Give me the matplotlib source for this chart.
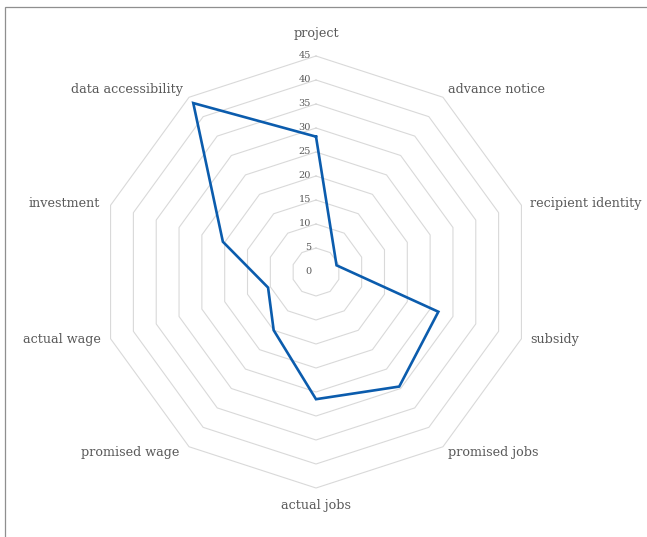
import numpy as np
import matplotlib
matplotlib.use("Agg")
import matplotlib.pyplot as plt
from matplotlib.patches import Rectangle

# Scores per disclosure category (advance notice has no value and is skipped)
categories = ["project", "advance notice", "recipient identity", "subsidy",
              "promised jobs", "actual jobs", "promised wage", "actual wage",
              "investment", "data accessibility"]
scores = [28.2, np.nan, 4.5, 26.8, 29.5, 26.5, 15.0, 10.5, 20.4, 43.5]
ring_levels = [0, 5, 10, 15, 20, 25, 30, 35, 40, 45]

W, H, DPI = 647, 537, 100
fig = plt.figure(figsize=(W / DPI, H / DPI), dpi=DPI)
fig.patch.set_facecolor("white")

# chart area frame (left and top edges visible)
fig.patches.append(Rectangle((5 / W, -0.5), 2.0, 1.5 - 7 / H,
                             transform=fig.transFigure, fill=False,
                             edgecolor="#8f8f8f", linewidth=0.9))

cx, cy, R = 316, 272, 216
ax = fig.add_axes([(cx - R) / W, (H - cy - R) / H, 2 * R / W, 2 * R / H],
                  projection="polar")
ax.set_theta_zero_location("N")
ax.set_theta_direction(-1)
ax.set_ylim(0, ring_levels[-1])
ax.set_facecolor("none")
ax.spines["polar"].set_visible(False)
ax.grid(False)
ax.set_xticks([])
ax.set_yticks([])

n = len(categories)
theta = np.arange(n) * 2 * np.pi / n
theta_closed = np.append(theta, theta[0])

# decagon rings
for lvl in ring_levels[1:]:
    ax.plot(theta_closed, np.full(n + 1, lvl), color="#d9d9d9", lw=0.8,
            zorder=1, clip_on=False)

# ring value labels along the top axis
txt_color = "#595959"
serif = ["DejaVu Serif"]
for lvl in ring_levels:
    ax.annotate(str(lvl), (0, lvl), xytext=(-5, 0), textcoords="offset pixels",
                ha="right", va="center", fontsize=7, color=txt_color,
                family=serif, annotation_clip=False)

# category labels around the outer ring
offsets = [(0, 22, "center"), (5, 8, "left"), (9, 2, "left"), (9, -1, "left"),
           (5, -6, "left"), (0, -17, "center"), (-10, -6, "right"),
           (-10, -1, "right"), (-11, 2, "right"), (-6, 8, "right")]
for name, t, (dx, dy, ha) in zip(categories, theta, offsets):
    ax.annotate(name, (t, ring_levels[-1]), xytext=(dx, dy),
                textcoords="offset pixels", ha=ha, va="center",
                fontsize=9.2, color=txt_color, family=serif,
                annotation_clip=False)

# series line, connecting the categories that have a value
vals = np.array(scores, dtype=float)
mask = ~np.isnan(vals)
t_valid = theta[mask]
v_valid = vals[mask]
ax.plot(np.append(t_valid, t_valid[0]), np.append(v_valid, v_valid[0]),
        color="#0b5cad", lw=1.9, solid_joinstyle="miter", zorder=3,
        clip_on=False)

fig.savefig("out.png", dpi=DPI, facecolor="white")
